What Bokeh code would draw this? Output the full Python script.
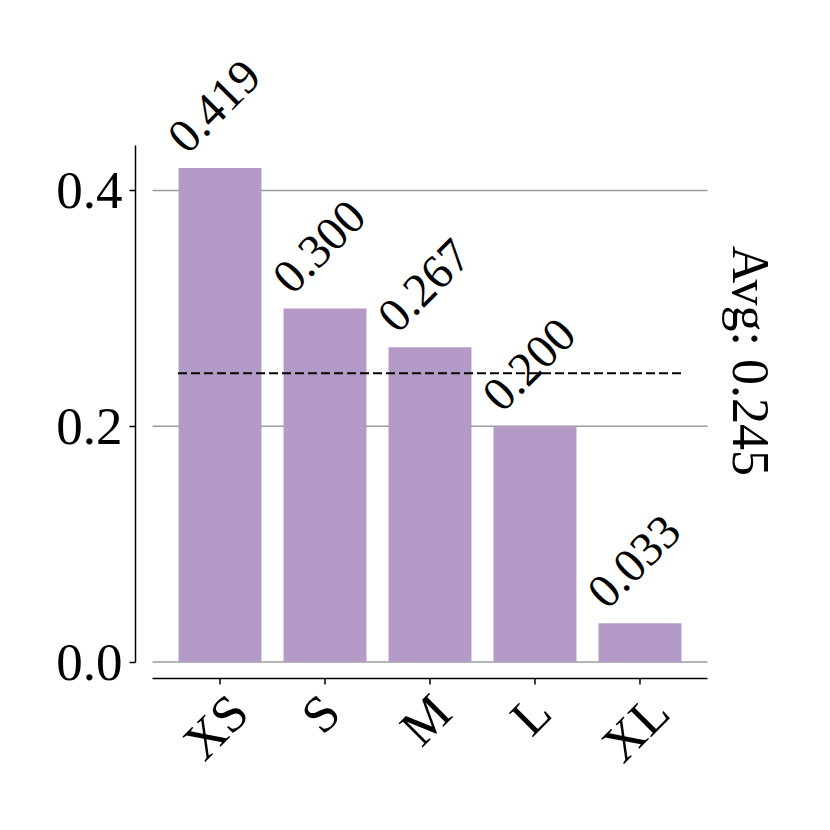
import math
from bokeh.plotting import figure
from bokeh.models import ColumnDataSource, FixedTicker, Range1d, NumeralTickFormatter
from bokeh.core.properties import value
from bokeh.embed import file_html
from bokeh.resources import INLINE

categories = ["XS", "S", "M", "L", "XL"]
values = [0.419, 0.300, 0.267, 0.200, 0.033]
value_labels = ["0.419", "0.300", "0.267", "0.200", "0.033"]
y_ticks = [0.0, 0.2, 0.4]
average = 0.245

FONT = "Liberation Serif"
BAR_COLOR = "#b49ac6"
TICK_FS = 52
# Times/Liberation Serif advance widths (em) used to centre rotated labels
CHAR_W = {"X": 0.722, "S": 0.556, "M": 0.889, "L": 0.611}

xs = list(range(len(categories)))

PX_PER_Y = 1178.75          # pixels per y unit
axis_y = -16.5 / PX_PER_Y   # x-axis spine offset 16.5px below zero

p = figure(width=830, height=830, output_backend="svg", toolbar_location=None,
           x_axis_location=None,
           x_range=Range1d(-0.805, 5.529), y_range=Range1d(-0.1429, 0.5442),
           min_border_left=135, min_border_right=30,
           min_border_top=20, min_border_bottom=0)
p.outline_line_color = None
p.grid.visible = False
p.background_fill_color = "white"
p.border_fill_color = "white"

gx0, gx1 = -0.643, 4.643
ytop = 0.4382

# grid lines (span the axis bounds only)
grid_src = ColumnDataSource(dict(x0=[gx0] * len(y_ticks), x1=[gx1] * len(y_ticks),
                                 y=y_ticks))
p.segment(x0="x0", y0="y", x1="x1", y1="y", source=grid_src,
          line_color="#9c9c9c", line_width=1.5)

src = ColumnDataSource(dict(x=xs, top=values, lab=value_labels))
p.vbar(x="x", top="top", bottom=0, width=0.79, source=src,
       fill_color=BAR_COLOR, line_color=None)

# average line
p.line(x=[xs[0] - 0.4, xs[-1] + 0.4], y=[average, average], line_color="black",
       line_width=2, line_dash="9 4")

# value labels
p.text(x="x", y="top", text="lab", source=src, angle=math.pi / 4,
       text_align="center", text_baseline="middle",
       x_offset=-6, y_offset=-62,
       text_font=value(FONT), text_font_size="48px", text_color="black")

# average label
p.text(x=[5.052], y=[average + 0.0105], text=[f"Avg: {average:.3f}"],
       angle=-math.pi / 2, text_align="center", text_baseline="middle",
       text_font=value(FONT), text_font_size="52px", text_color="black")

# x axis (drawn manually, offset below the data area)
p.segment(x0=[gx0], y0=[axis_y], x1=[gx1], y1=[axis_y], line_color="black",
          line_width=1.5)
tick_len = 6 / PX_PER_Y
p.segment(x0=xs, y0=[axis_y] * len(xs), x1=xs, y1=[axis_y - tick_len] * len(xs),
          line_color="black", line_width=1.5)
label_w = [sum(CHAR_W[c] for c in cat) for cat in categories]
xlab_src = ColumnDataSource(dict(
    x=xs, y=[axis_y] * len(xs), text=categories,
    dy=[24.8 + 0.3535 * w * TICK_FS for w in label_w]))
p.text(x="x", y="y", text="text", source=xlab_src, angle=math.pi / 4,
       text_align="center", text_baseline="middle", x_offset=-4.5, y_offset="dy",
       text_font=value(FONT), text_font_size=f"{TICK_FS}px", text_color="black")

# y axis
p.yaxis.ticker = FixedTicker(ticks=y_ticks)
p.yaxis.formatter = NumeralTickFormatter(format="0.0")
p.yaxis.bounds = (0, ytop)
ax = p.yaxis[0]
ax.axis_line_color = "black"
ax.axis_line_width = 1.5
ax.major_tick_line_color = "black"
ax.major_tick_line_width = 1.5
ax.major_tick_out = 6
ax.major_tick_in = 0
ax.minor_tick_line_color = None
ax.major_label_text_font = FONT
ax.major_label_text_font_size = "53px"
ax.major_label_text_color = "black"
ax.major_label_standoff = 7

open("out.html", "w").write(file_html(p, INLINE))
